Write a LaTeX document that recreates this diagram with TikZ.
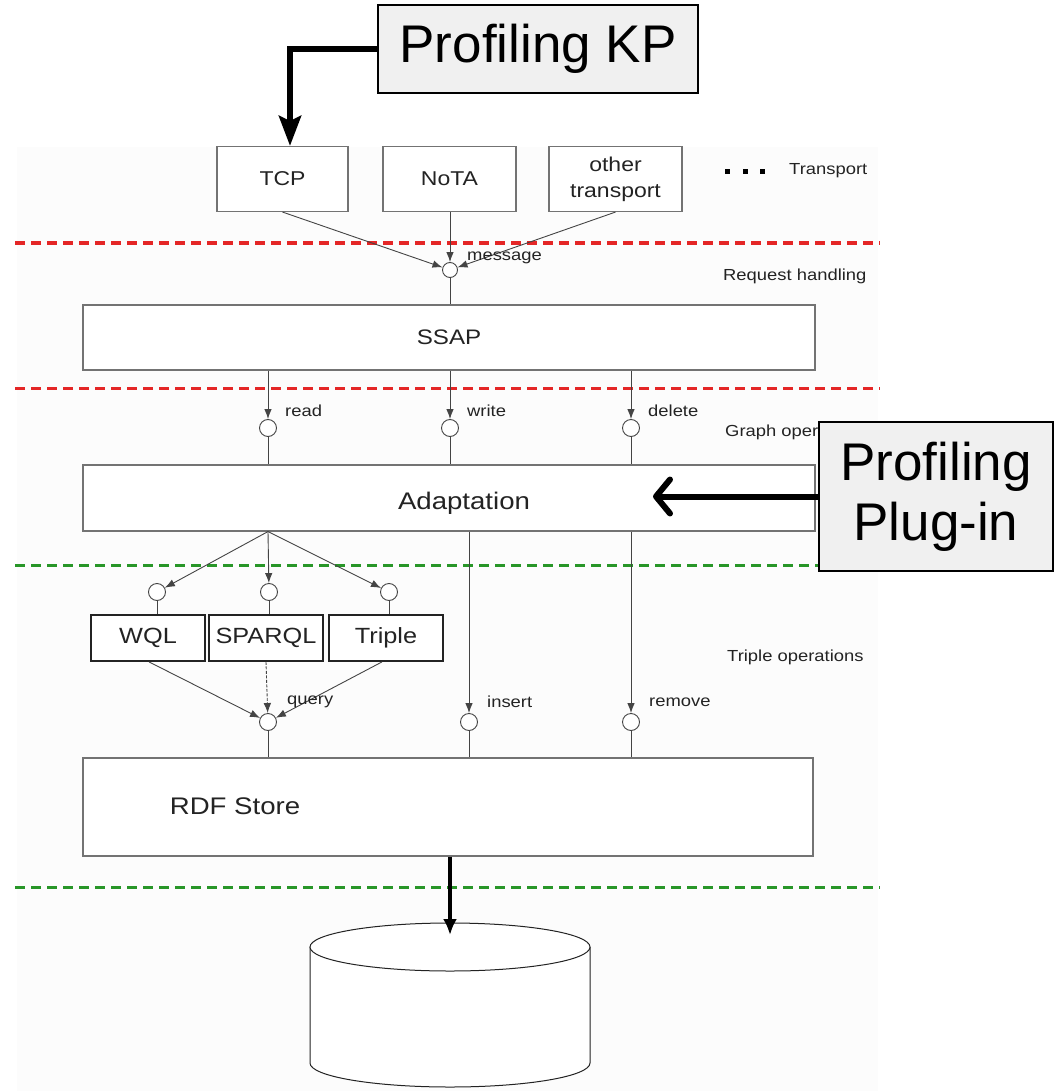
\documentclass[tikz,border=0pt]{standalone}
\usepackage{fontspec}
\setmainfont{Liberation Sans}
\newfontfamily\diagfont[FakeStretch=1.15]{Liberation Sans}
\usetikzlibrary{arrows.meta}
\definecolor{dashred}{RGB}{228,38,38}
\definecolor{dashgreen}{RGB}{40,150,40}
\definecolor{boxgray}{RGB}{115,115,115}
\definecolor{inkgray}{RGB}{35,35,35}
\definecolor{notefill}{RGB}{240,240,240}
\definecolor{paper}{RGB}{252,252,252}

\tikzset{
  comp/.style={draw=boxgray, line width=1.1pt, fill=white, text=inkgray, inner sep=0pt,
    align=center, font=\diagfont\fontsize{20}{26}\selectfont},
  layer/.style={comp, minimum width=732pt, minimum height=65pt},
  lang/.style={comp, draw=inkgray, line width=1.8pt, minimum height=46pt,
    font=\diagfont\fontsize{22}{26}\selectfont},
  port/.style={circle, draw=inkgray!85, line width=0.9pt, fill=white,
    minimum size=17pt, inner sep=0pt},
  wire/.style={draw=inkgray!85, line width=0.9pt},
  flow/.style={wire, -{Latex[length=10pt,width=7.5pt]}},
  tag/.style={anchor=west, inner sep=0pt, text=inkgray,
    font=\diagfont\fontsize{16}{18}\selectfont},
  title/.style={inner sep=0pt, text=inkgray, font=\diagfont\fontsize{24}{28}\selectfont},
  sep/.style={line width=3pt, dash pattern=on 10pt off 6pt},
  note/.style={draw=black, line width=1.5pt, fill=notefill, inner sep=0pt,
    align=center, font=\fontsize{53}{60}\selectfont},
  bold/.style={draw=black, line width=6pt},
}

\begin{document}
\begin{tikzpicture}[x=1pt,y=-1pt]
\useasboundingbox (0,0) rectangle (1057,1091);
\fill[paper] (17,147) rectangle (878,1091);

% layer separators
\draw[sep, dashred]   (15,243) -- (880,243);
\draw[sep, dashred]   (15,388) -- (880,388);
\draw[sep, dashgreen] (15,565) -- (880,565);
\draw[sep, dashgreen] (15,887) -- (880,887);

% transport layer
\node[comp, minimum width=131pt, minimum height=65pt] (tcp)   at (282.5,179) {TCP};
\node[comp, minimum width=133pt, minimum height=65pt] (nota)  at (449.5,179) {NoTA};
\node[comp, minimum width=133pt, minimum height=65pt] (other) at (615.5,179) {other\\transport};
\foreach \dx in {727,745,762} \fill[black] (\dx-2.5,169.5) rectangle (\dx+2.5,174.5);
\node[tag] at (789,171) {Transport};

% request handling
\node[port, minimum size=15pt] (msg) at (450,270) {};
\draw[flow] (tcp.south) -- (msg);
\draw[flow] (nota.south -| msg) -- (msg);
\draw[flow] (other.south) -- (msg);
\node[tag] at (467,258) {message};
\node[tag] at (723,276) {Request handling};

\node[layer, font=\diagfont\fontsize{21}{24}\selectfont] (ssap) at (449,337.5) {SSAP};
\draw[wire] (msg) -- (msg |- ssap.north);

% graph operations
\node[port] (read)  at (268,428) {};
\node[port] (write) at (450,428) {};
\node[port] (del)   at (631,428) {};
\foreach \p in {read,write,del} \draw[flow] (\p |- ssap.south) -- (\p);
\node[tag] at (285,411) {read};
\node[tag] at (467,411) {write};
\node[tag] at (648,411) {delete};
\node[tag] at (725,432) {Graph operations};

\node[layer, minimum height=66pt] (adapt) at (449,498) {};
\node[title] (adapttext) at (464,503) {Adaptation};
\foreach \p in {read,write,del} \draw[wire] (\p) -- (\p |- adapt.north);

% triple operations
\coordinate (fan) at (read |- adapt.south);
\node[port] (p1) at (157,592) {};
\node[port] (p2) at (269,592) {};
\node[port] (p3) at (389,592) {};
\foreach \p in {p1,p2,p3} \draw[flow] (fan) -- (\p);

\node[lang, minimum width=114pt] (wql)    at (148,638) {WQL};
\node[lang, minimum width=114pt] (sparql) at (266,638) {SPARQL};
\node[lang, minimum width=114pt] (triple) at (386,638) {Triple};
\draw[wire] (p1) -- (p1 |- wql.north);
\draw[wire] (p2) -- (p2 |- sparql.north);
\draw[wire] (p3) -- (p3 |- triple.north);

\node[port] (query)  at (268,722) {};
\node[port] (insert) at (469,722) {};
\node[port] (remove) at (631,722) {};
\draw[flow] ([xshift=1pt]wql.south) -- (query);
\draw[flow, dash pattern=on 3pt off 1.5pt] (sparql.south) -- (query);
\draw[flow] ([xshift=-4pt]triple.south) -- (query);
\draw[flow] (insert |- adapt.south) -- (insert);
\draw[flow] (remove |- adapt.south) -- (remove);
\node[tag] at (287,702) {query};
\node[tag] at (487,702) {insert};
\node[tag] at (649,702) {remove};
\node[tag] at (727,657) {Triple operations};

% store
\node[comp, minimum width=730pt, minimum height=98pt] (rdf) at (448,807) {};
\node[title] (rdftext) at (235,806) {RDF Store};
\foreach \p in {query,insert,remove} \draw[wire] (\p) -- (\p |- rdf.north);

% database cylinder
\draw[draw=inkgray, line width=1pt, fill=white]
  (310,947) -- (310,1063)
  .. controls (310,1076.25) and (372.7,1087) .. (450,1087)
  .. controls (527.3,1087) and (590,1076.25) .. (590,1063) -- (590,947);
\draw[draw=inkgray, line width=1pt, fill=white] (450,947) ellipse [x radius=140pt, y radius=24pt];
\coordinate (dbtop) at (450,935);
\draw[black, line width=3.5pt, -{Latex[length=16pt,width=14pt]}] (dbtop |- rdf.south) -- (dbtop);

% profiling components
\node[note, minimum width=320pt, minimum height=88pt] (kp) at (538,49) {Profiling KP};
\draw[bold, -{Stealth[length=30pt,width=22pt,inset=5pt]}] (kp.west) -| ([xshift=7.5pt]tcp.north);

\node[note, minimum width=234pt, minimum height=149pt] (plug) at (936,496.5) {Profiling\\Plug-in};
\coordinate (hook) at (653,496.5);
\draw[bold, -{Straight Barb[length=14pt,width=34pt,round]}] (plug.west) -- (hook);
\end{tikzpicture}
\end{document}
